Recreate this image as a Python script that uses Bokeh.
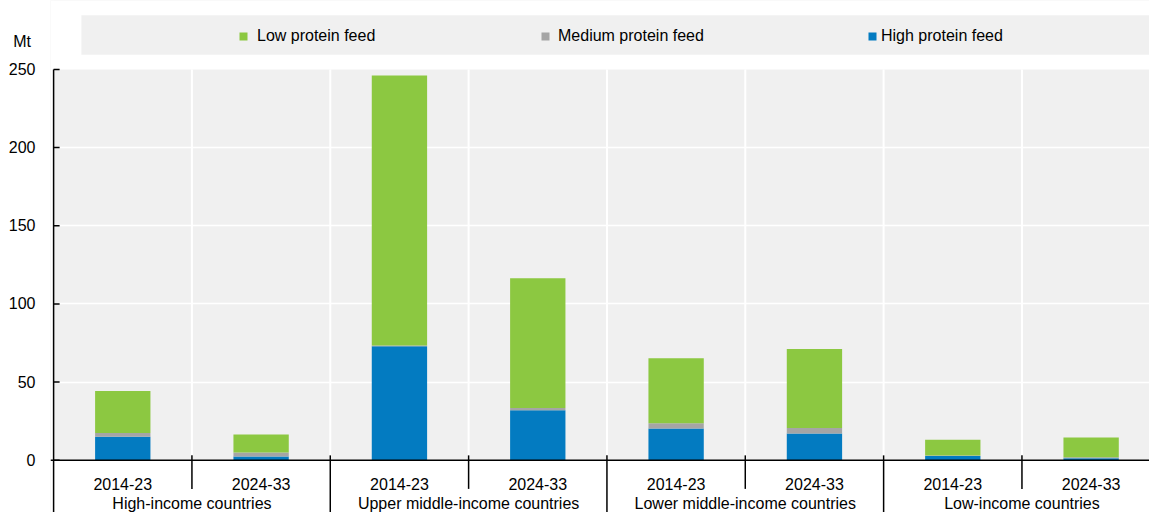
from bokeh.plotting import figure
from bokeh.models import (Range1d, FixedTicker, BoxAnnotation, Span,
                          Legend, LegendItem, ColumnDataSource)
from bokeh.core.properties import value
from bokeh.embed import file_html
from bokeh.resources import INLINE

# ---------------- data ----------------
groups = ["High-income countries", "Upper middle-income countries",
          "Lower middle-income countries", "Low-income countries"]
periods = ["2014-23", "2024-33"]
high_protein = [15.0, 2.5, 73.0, 32.0, 20.3, 17.2, 2.7, 1.3]
medium_protein = [2.5, 2.5, 0.5, 1.5, 3.4, 3.4, 0.3, 0.6]
low_protein = [26.8, 11.5, 172.7, 83.0, 41.6, 50.6, 10.2, 12.6]
series_names = ["Low protein feed", "Medium protein feed", "High protein feed"]
y_ticks = [0, 50, 100, 150, 200, 250]
unit_label = "Mt"

# ---------------- styles ----------------
FONT = "Liberation Sans"
C_LOW = "#8cc841"
C_MED = "#a5a5a5"
C_HIGH = "#037bc1"
BG = "#f0f0f0"

n_groups = len(groups)
n_per = len(periods)
n_bars = n_groups * n_per
x_pos = [i + 0.5 for i in range(n_bars)]
sub_labels = [periods[i % n_per] for i in range(n_bars)]
group_x = [g * n_per + n_per / 2 for g in range(n_groups)]

y_top_plot = y_ticks[-1]
y_min = -33.4
y_max = 294.1
x_min = -0.0224
x_max = 7.922
unit_y = 268          # position of the unit label on the value scale
tick_len = 0.0434     # inward tick length (6 px) in x units

src = ColumnDataSource(dict(x=x_pos, high=high_protein, medium=medium_protein,
                            low=low_protein))

p = figure(width=1149, height=512, frame_width=1099, frame_height=512,
           x_range=Range1d(x_min, x_max), y_range=Range1d(y_min, y_max),
           output_backend="svg", toolbar_location=None, x_axis_location=None,
           min_border_left=50, min_border_right=0, min_border_top=0,
           min_border_bottom=0)
p.background_fill_color = BG
p.border_fill_color = "white"
p.outline_line_color = None

# white areas outside the plotting zone
p.add_layout(BoxAnnotation(bottom=y_top_plot, fill_color="white", fill_alpha=1,
                           line_color=None, level="underlay"))
p.add_layout(BoxAnnotation(top=0, fill_color="white", fill_alpha=1,
                           line_color=None, level="underlay"))
p.add_layout(BoxAnnotation(right=0, fill_color="white", fill_alpha=1,
                           line_color=None, level="underlay"))
# legend background strip
p.add_layout(BoxAnnotation(left=0.201, bottom=259.4, top=284.6, fill_color=BG,
                           fill_alpha=1, line_color=None, level="underlay"))

# grids
p.xgrid.grid_line_color = None
p.ygrid.ticker = FixedTicker(ticks=y_ticks[1:-1])
p.ygrid.grid_line_color = "white"
p.ygrid.grid_line_width = 1.5

# vertical white separators inside plot
bounds = list(range(1, n_bars))
p.segment(x0=bounds, y0=[0] * len(bounds), x1=bounds,
          y1=[y_top_plot] * len(bounds), line_color="white", line_width=2)

# bars
rs = p.vbar_stack(["high", "medium", "low"], x="x", width=0.4,
                  color=[C_HIGH, C_MED, C_LOW], line_color=None, source=src)
r_high, r_med, r_low = rs

# y axis: labels from the axis, line and inward ticks drawn on the frame
p.yaxis.ticker = FixedTicker(ticks=y_ticks + [unit_y])
p.yaxis.major_label_overrides = {unit_y: unit_label + "\u00a0"}
p.yaxis.axis_line_color = None
p.yaxis.major_tick_line_color = None
p.yaxis.minor_tick_line_color = None
p.yaxis.major_tick_in = 0
p.yaxis.major_tick_out = 0
p.yaxis.major_label_standoff = 15
p.yaxis.major_label_text_font = FONT
p.yaxis.major_label_text_font_size = "16px"
p.yaxis.major_label_text_color = "black"

p.segment(x0=[0], y0=[y_min], x1=[0], y1=[y_top_plot], line_color="black",
          line_width=1.5)
p.segment(x0=[0] * len(y_ticks), y0=y_ticks, x1=[tick_len] * len(y_ticks),
          y1=y_ticks, line_color="black", line_width=1.5)

# x axis line at zero
p.add_layout(Span(location=0, dimension="width", line_color="black",
                  line_width=1.5))

# separators below the axis
minor_sep = [g * n_per + 1 for g in range(n_groups)]
major_sep = [g * n_per for g in range(1, n_groups)]
p.segment(x0=minor_sep, y0=[3.15] * len(minor_sep), x1=minor_sep,
          y1=[-18.3] * len(minor_sep), line_color="black", line_width=1.5)
p.segment(x0=major_sep, y0=[3.15] * len(major_sep), x1=major_sep,
          y1=[y_min] * len(major_sep), line_color="black", line_width=1.5)

# category labels
p.text(x=x_pos, y=[-14.9] * n_bars, text=sub_labels, text_align="center",
       text_baseline="alphabetic", text_font=value(FONT),
       text_font_size="16px", text_color="black")
p.text(x=group_x, y=[-27.6] * n_groups, text=groups, text_align="center",
       text_baseline="alphabetic", text_font=value(FONT),
       text_font_size="16px", text_color="black")

# legends
leg_specs = [(series_names[0], r_low, 188, 9),
             (series_names[1], r_med, 490, 8),
             (series_names[2], r_high, 817, 4)]
for name, rend, lx, standoff in leg_specs:
    lg = Legend(items=[LegendItem(label=name, renderers=[rend])],
                location=(lx, 467), orientation="horizontal", padding=0,
                margin=0, spacing=0, glyph_width=10, glyph_height=10,
                label_height=10, label_standoff=standoff,
                label_text_font=FONT, label_text_font_size="16px",
                label_text_color="black", background_fill_alpha=0,
                border_line_color=None)
    p.add_layout(lg)

open("out.html", "w").write(file_html(p, INLINE))
